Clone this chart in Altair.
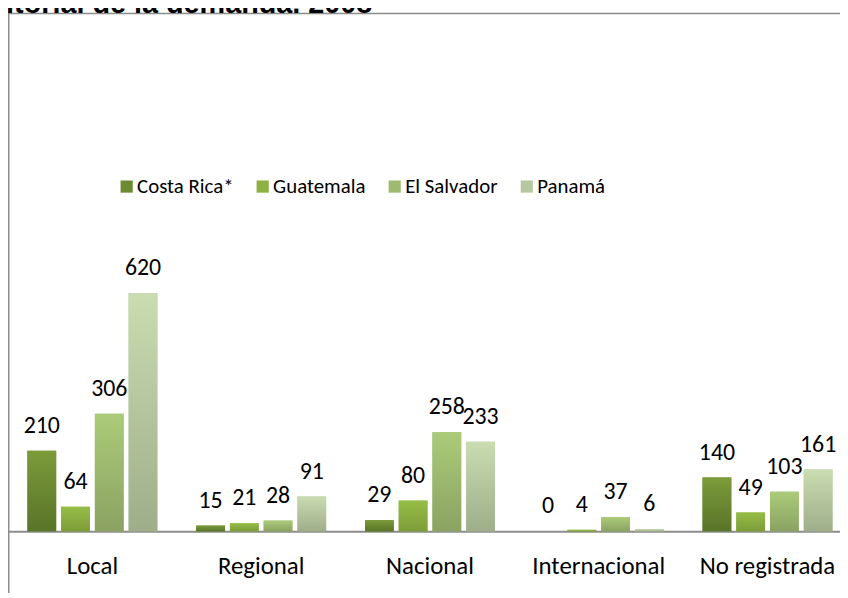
import altair as alt
import pandas as pd

categories = ["Local", "Regional", "Nacional", "Internacional", "No registrada"]
series = ["Costa Rica*", "Guatemala", "El Salvador", "Panamá"]
costa_rica = [210, 15, 29, 0, 140]
guatemala = [64, 21, 80, 4, 49]
el_salvador = [306, 28, 258, 37, 103]
panama = [620, 91, 233, 6, 161]
title_text = "Distribución territorial de la demanda. 2008"

mid_colors = ["#6b8a31", "#8db142", "#9dba6e", "#b6c8a0"]
grad_colors = [("#7b9b3a", "#5a7429"), ("#96bd47", "#7d9c39"),
               ("#abcb79", "#8ba262"), ("#cadcb1", "#9eae8a")]

rows = []
for s, vals in zip(series, [costa_rica, guatemala, el_salvador, panama]):
    for c, v in zip(categories, vals):
        rows.append({"categoria": c, "serie": s, "valor": v})
df = pd.DataFrame(rows)

FONT = "Carlito, Lato"
W, H = 838, 525

x_enc = alt.X("categoria:N", sort=categories,
              scale=alt.Scale(domain=categories, range=[0, 850], paddingInner=0.23, paddingOuter=0.115),
              axis=alt.Axis(title=None, labelAngle=0, ticks=False, labelPadding=22,
                            labelFont=FONT, labelFontSize=25, labelColor="#000000",
                            domainColor="#8c8c8c", domainWidth=2))
xo_enc = alt.XOffset("serie:N", sort=series,
                     scale=alt.Scale(domain=series, paddingInner=0.147, paddingOuter=0))
y_enc = alt.Y("valor:Q", scale=alt.Scale(domain=[0, 1357], nice=False, zero=True), axis=None)

base = alt.Chart(df).encode(x=x_enc, xOffset=xo_enc, y=y_enc)

bars = base.mark_bar().encode(
    color=alt.Color("serie:N", sort=series,
                    scale=alt.Scale(domain=series, range=mid_colors),
                    legend=alt.Legend(title=None, orient="none", legendX=109, legendY=167,
                                      direction="horizontal", symbolType="square",
                                      symbolSize=150, symbolStrokeWidth=0,
                                      labelFont=FONT, labelFontSize=21, labelColor="#000000",
                                      columnPadding=18, labelOffset=0, padding=0))
)

grad_layers = []
for s, (top, bottom) in zip(series, grad_colors):
    g = alt.Gradient(gradient="linear",
                     stops=[alt.GradientStop(color=top, offset=0),
                            alt.GradientStop(color=bottom, offset=1)],
                     x1=0, x2=0, y1=0, y2=1)
    grad_layers.append(base.transform_filter(alt.datum.serie == s).mark_bar(color=g))

labels = base.mark_text(dy=-18, baseline="alphabetic", font=FONT, fontSize=24,
                        color="#000000").encode(text="valor:Q")

one = pd.DataFrame({"k": [0]})
left_line = alt.Chart(one).mark_rule(color="#8c8c8c", strokeWidth=1.5).encode(
    x=alt.value(0.75), y=alt.value(3.5), y2=alt.value(600))
top_line = alt.Chart(one).mark_rule(color="#8c8c8c", strokeWidth=1.5).encode(
    x=alt.value(0), x2=alt.value(860), y=alt.value(3.5))
title = alt.Chart(one).mark_text(align="right", baseline="alphabetic", fontWeight="bold",
                                 font="Liberation Sans", fontSize=29, color="#000000").encode(
    x=alt.value(367), y=alt.value(2.5), text=alt.value(title_text))

chart = alt.layer(bars, *grad_layers, labels, left_line, top_line, title).properties(
    width=W, height=H,
    autosize=alt.AutoSizeParams(type="none"),
    padding={"left": 0, "top": 0, "right": 0, "bottom": 60},
).configure_view(stroke=None)

chart.save("out.html", embed_options={"renderer": "svg", "actions": False})
